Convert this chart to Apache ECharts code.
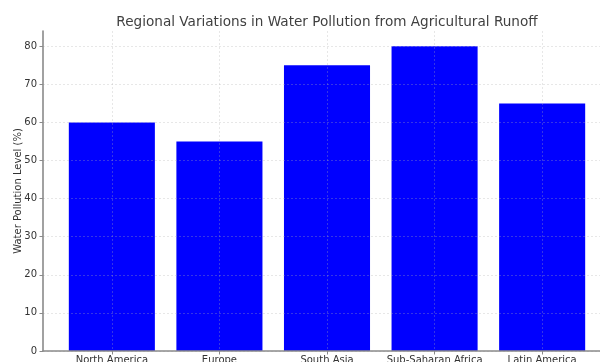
<!DOCTYPE html>
<html>
<head>
<meta charset="utf-8">
<script src="https://cdn.jsdelivr.net/npm/echarts@6/dist/echarts.min.js"></script>
<style>
  html, body { margin: 0; padding: 0; background: #fff; }
  #chart { width: 600px; height: 362px; }
</style>
</head>
<body>
<div id="chart"></div>
<script>
// Regional pollution levels from agricultural runoff
const categories = ['North America', 'Europe', 'South Asia', 'Sub-Saharan Africa', 'Latin America'];
const pollutionLevels = [60, 55, 75, 80, 65];
const yTicks = [0, 10, 20, 30, 40, 50, 60, 70, 80];

const positions = categories.map((_, i) => i);
const barData = pollutionLevels.map((v, i) => [i, v]);

// layout of the plotting area
const gridLeft = 43, gridRight = -11, gridTop = 31, gridBottom = 11;
const xMin = -0.64, xMax = categories.length - 1 + 0.64;
const plotWidth = 600 - gridLeft - gridRight;
const barWidthPx = 0.8 * plotWidth / (xMax - xMin);

// translucent dashed grid, drawn on top of the bars
const gridLine = { show: true, lineStyle: { color: 'rgba(176,176,176,0.38)', type: [2, 2], width: 0.8 } };
const font = 'DejaVu Sans';

const chart = echarts.init(document.getElementById('chart'), null, { renderer: 'canvas' });
chart.setOption({
  animation: false,
  backgroundColor: '#ffffff',
  title: {
    text: 'Regional Variations in Water Pollution from Agricultural Runoff',
    left: 322, top: 10, textAlign: 'center',
    textStyle: { fontFamily: font, fontSize: 13.6, fontWeight: 'normal', color: '#404040' }
  },
  grid: {
    left: gridLeft, right: gridRight, top: gridTop, bottom: gridBottom,
    containLabel: false, outerBoundsMode: 'none'
  },
  xAxis: {
    type: 'value', min: xMin, max: xMax, z: 5,
    axisLine: { show: true, onZero: false, lineStyle: { color: '#8a8a8a', width: 1.6 } },
    axisTick: { show: true, customValues: positions, length: 3.5, lineStyle: { color: '#8a8a8a' } },
    axisLabel: {
      customValues: positions, margin: 4,
      formatter: v => categories[Math.round(v)] || '',
      fontFamily: font, fontSize: 10, color: '#333333'
    },
    splitLine: gridLine
  },
  yAxis: {
    type: 'value', min: 0, max: 84, z: 5,
    name: 'Water Pollution Level (%)', nameLocation: 'middle', nameGap: 20,
    nameMoveOverlap: false,
    nameTextStyle: { fontFamily: font, fontSize: 10, color: '#333333' },
    axisLine: { show: true, onZero: false, lineStyle: { color: '#8a8a8a', width: 1.6 } },
    axisTick: { show: true, customValues: yTicks, length: 3.5, lineStyle: { color: '#8a8a8a' } },
    axisLabel: { customValues: yTicks, margin: 6, fontFamily: font, fontSize: 10, color: '#333333' },
    splitLine: gridLine
  },
  series: [{
    type: 'bar',
    data: barData,
    barWidth: barWidthPx,
    itemStyle: { color: '#0000ff' },
    z: 1
  }]
});
</script>
</body>
</html>
